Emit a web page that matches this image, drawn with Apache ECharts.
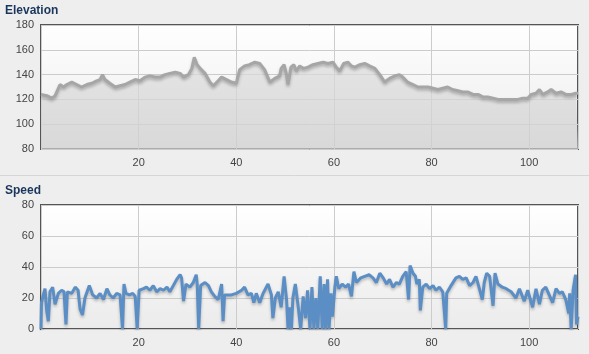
<!DOCTYPE html>
<html>
<head>
<meta charset="utf-8">
<script src="https://cdn.jsdelivr.net/npm/echarts@6/dist/echarts.min.js"></script>
<style>
  html, body { margin: 0; padding: 0; background: #eeeeee; }
  #chart { width: 589px; height: 354px; }
</style>
</head>
<body>
<div id="chart"></div>
<script>
// distance (km) and elevation (m)
const elevKm = [
  0,1.2,2.2,2.9,3.9,4.6,5.3,6.3,7.3,8.3,
  9.4,10.4,11.4,12.1,12.6,13.1,14.1,15.2,16.2,17.2,
  18.2,19.3,20.3,21.3,22.3,23.4,24.4,25.4,26.4,27.5,
  28.5,29.2,30.2,30.9,31.4,32,32.6,33.6,34.6,35.3,
  36.3,37,38,39,40,40.7,41.7,42.7,43.8,44.8,
  45.8,46.9,47.9,48.9,49.2,49.8,50.3,50.6,51.2,51.8,
  52.3,53,53.8,54.7,55.7,56.7,57.8,58.8,59.8,60.5,
  61.2,62,62.9,63.6,64.3,65.3,66.3,67.3,68.4,69.4,
  70.4,71.4,72.5,73.4,74.1,75.1,76.2,77.2,78.2,79.3,
  80.3,81.3,82.3,83.3,84.3,85.4,86.4,87.4,88.5,89.5,
  90.5,91.5,92.6,93.6,94.6,95.6,96.7,97.7,98.7,99.7,
  100.4,101.4,102.1,102.8,103.8,104.5,105.5,106.5,107.5,108.6,
  109.6,110
];
const elevM = [
  124,123,121,123,132,130,132,134,132,130,
  132,133,135,136,140,136,133,130,131,132,
  134,136,135,138,139,138,138,140,141,142,
  141,138,140,145,154,148,145,141,134,131,
  135,138,136,134,133,144,147,148,150,149,
  144,134,137,139,145,148,140,132,146,148,
  143,147,145,146,148,149,150,149,150,146,
  143,149,150,147,146,148,149,147,145,140,
  134,137,139,140,138,134,132,130,130,130,
  129,128,129,130,128,127,126,126,124,124,
  122,122,121,120,120,120,120,120,121,121,
  124,125,128,124,126,128,125,126,124,124,
  125,125
];

// distance (km) and speed (km/h)
const speedKm = [
  0,0.1,0.48,0.82,1.16,1.5,1.84,2.39,2.87,3.55,
  4.23,4.71,5.12,5.4,6.3,7.0,7.6,8.0,8.5,9.0,
  9.9,10.6,11.4,12.1,12.8,13.5,14.1,14.8,15.5,16.2,
  16.7,17.0,17.4,18.1,18.8,19.3,19.7,20.1,21.0,21.6,
  22.3,23.0,23.7,24.4,25.1,25.8,26.4,27.1,27.8,28.5,
  28.8,29.2,29.7,30.5,31.2,31.8,32.0,32.3,32.7,33.6,
  34.3,34.9,35.6,36.3,37.0,37.3,37.6,38,39,40,
  41.1,41.7,42.4,43.1,43.6,44.1,44.8,45.5,46.5,47.2,
  47.5,48.0,48.6,49.2,49.8,50.3,50.6,50.9,51.3,51.6,
  52.1,52.7,53.2,53.7,54.2,54.6,55.1,55.5,55.9,56.3,
  56.7,57.2,57.6,58.0,58.3,58.7,59.0,59.4,59.7,60.2,
  60.5,61.0,61.7,62.4,63,63.6,64.1,64.6,65.5,66.3,
  67.2,68.0,68.7,69.4,70.1,70.8,71.4,72.1,72.8,73.4,
  74.1,74.8,75.3,75.6,76.2,76.7,77.0,77.5,77.7,78.2,
  78.9,79.6,80.3,80.9,81.6,82.3,82.9,83.1,84.0,85.0,
  85.7,86.4,87.1,87.8,88.5,89.1,89.8,90.4,90.8,91.3,
  91.9,92.6,93.0,93.6,94.5,95.3,96.3,97.3,98.0,99.0,
  99.7,100.7,101.4,102.1,102.7,103.4,104.1,104.8,105.5,106.2,
  106.8,107.5,108.1,108.3,108.6,109.0,109.5,109.7,110
];
const speedKmh = [
  0,17,22,26,12,5,24,27,16,23,
  25,24,3,24,23,27,25,13,9,20,
  28,22,20,23,19,26,22,20,23,22,
  0,29,23,22,23,21,0,25,26,27,
  25,28,24,26,25,27,24,28,32,35,
  33,18,29,27,30,35,29,0,28,30,
  28,24,21,19,29,5,22,23,22,23,
  25,27,22,23,17,23,17,23,29,22,
  7,20,24,14,34,19,0,14,0,20,
  29,14,0,21,7,25,0,27,0,20,
  0,34,0,29,0,32,0,23,8,27,
  34,26,29,27,29,21,37,30,33,34,
  35,33,30,36,33,29,32,27,30,29,
  34,37,19,41,36,34,29,32,12,27,
  29,26,28,25,27,24,0,23,28,33,
  34,32,33,28,30,34,26,19,30,36,
  34,15,36,29,27,26,24,20,26,18,
  25,14,26,16,25,27,22,17,26,23,
  24,19,10,23,0,25,35,3,8
];

const xTicks = [20, 40, 60, 80, 100];

const font = 'Liberation Sans, Arial, sans-serif';
const chart = echarts.init(document.getElementById('chart'), null, { renderer: 'canvas' });

// plot background: white fading to light grey
const plotBg = new echarts.graphic.LinearGradient(0, 0, 0, 1, [
  { offset: 0, color: '#ffffff' },
  { offset: 1, color: '#ebebeb' }
]);

function xAxisFor(idx) {
  return {
    type: 'value', gridIndex: idx, min: 0, max: 110, interval: 20,
    axisLine: { show: false }, axisTick: { show: false },
    axisLabel: {
      color: '#444', fontSize: 11, fontFamily: font, margin: 8,
      formatter: v => xTicks.indexOf(v) >= 0 ? String(v) : ''
    },
    splitLine: { show: true, lineStyle: { color: '#cccccc', width: 1 } }
  };
}
function yAxisFor(idx, min, max) {
  return {
    type: 'value', gridIndex: idx, min: min, max: max, interval: 20,
    axisLine: { show: false }, axisTick: { show: false },
    axisLabel: { color: '#444', fontSize: 11, fontFamily: font, margin: 7 },
    splitLine: { show: true, lineStyle: { color: '#cccccc', width: 1 } }
  };
}

const titleStyle = { color: '#1b365d', fontSize: 12, fontWeight: 'bold', fontFamily: font };

const option = {
  backgroundColor: '#eeeeee',
  animation: false,
  title: [
    { text: 'Elevation', left: 5, top: 5, padding: 0, textStyle: titleStyle },
    { text: 'Speed', left: 5, top: 185, padding: 0, textStyle: titleStyle }
  ],
  graphic: [
    { type: 'line', shape: { x1: 0, y1: 175.5, x2: 589, y2: 175.5 }, style: { stroke: '#d6d6d6', lineWidth: 1 } }
  ],
  grid: [
    { left: 41, top: 25, width: 537, height: 124, show: true, backgroundColor: plotBg, borderColor: '#555', borderWidth: 2 },
    { left: 41, top: 205, width: 537, height: 124, show: true, backgroundColor: plotBg, borderColor: '#555', borderWidth: 2 }
  ],
  xAxis: [xAxisFor(0), xAxisFor(1)],
  yAxis: [yAxisFor(0, 80, 180), yAxisFor(1, 0, 80)],
  series: [
    {
      name: 'Elevation', type: 'line', xAxisIndex: 0, yAxisIndex: 0,
      data: elevKm.map((k, i) => [k, elevM[i]]),
      showSymbol: false, smooth: false,
      lineStyle: { color: '#a6a6a6', width: 3, shadowColor: 'rgba(0,0,0,0.25)', shadowBlur: 3, shadowOffsetY: 2 },
      areaStyle: {
        origin: 'start',
        color: new echarts.graphic.LinearGradient(0, 0, 0, 1, [
          { offset: 0, color: '#dcdcdc' },
          { offset: 1, color: '#d0d0d0' }
        ])
      }
    },
    {
      name: 'Speed', type: 'line', xAxisIndex: 1, yAxisIndex: 1,
      data: speedKm.map((k, i) => [k, speedKmh[i]]),
      showSymbol: false, smooth: false,
      lineStyle: { color: '#5b8ec4', width: 3, shadowColor: 'rgba(0,0,0,0.25)', shadowBlur: 3, shadowOffsetY: 2 }
    }
  ]
};
chart.setOption(option);
</script>
</body>
</html>
